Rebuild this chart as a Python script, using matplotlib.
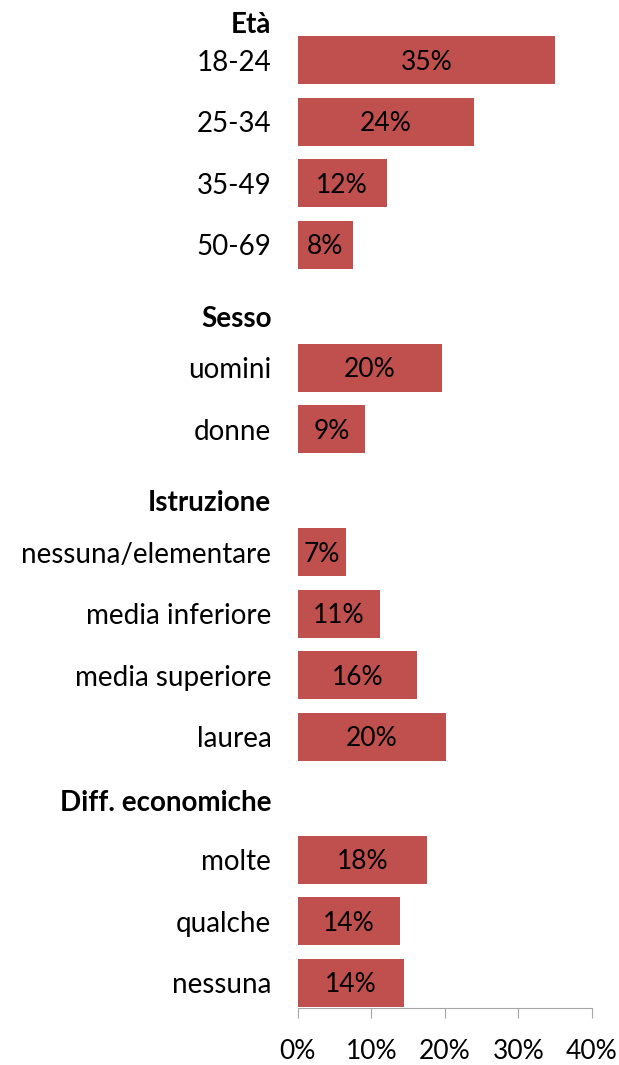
import matplotlib
matplotlib.use('Agg')
import matplotlib.pyplot as plt
from matplotlib.ticker import FuncFormatter

plt.rcParams['font.family'] = ['Lato', 'DejaVu Sans']

# data
categories = ['18-24', '25-34', '35-49', '50-69',
              'uomini', 'donne',
              'nessuna/elementare', 'media inferiore', 'media superiore', 'laurea',
              'molte', 'qualche', 'nessuna']
values = [35.0, 24.0, 12.1, 7.5,
          19.6, 9.2,
          6.6, 11.2, 16.2, 20.2,
          17.6, 13.9, 14.5]
value_labels = ['35%', '24%', '12%', '8%',
                '20%', '9%',
                '7%', '11%', '16%', '20%',
                '18%', '14%', '14%']
groups = ['Età', 'Sesso', 'Istruzione', 'Diff. economiche']
x_ticks = [0, 10, 20, 30, 40]

# layout: rows in slot units, headers sit in empty slots
row_pos = [1, 2, 3, 4, 6, 7, 9, 10, 11, 12, 14, 15, 16]
group_pos = [0.38, 5.16, 8.15, 13.03]

fig = plt.figure(figsize=(6.19, 10.65), dpi=100)
ax = fig.add_axes([0.481, 0.0535, 0.475, 0.9465])

ax.barh(row_pos, values, height=0.78, color='#C0504D')
for y, v, lab in zip(row_pos, values, value_labels):
    ax.text(v / 2, y + 0.03, lab, ha='center', va='center', fontsize=19, color='black')

ax.set_yticks(row_pos + group_pos)
ax.set_yticklabels(categories + groups)
for t in ax.get_yticklabels():
    t.set_fontsize(20)
    if t.get_text() in groups:
        t.set_fontweight('bold')

ax.set_ylim(16.41, 0.02)
ax.set_xlim(0, 40)
ax.set_xticks(x_ticks)
ax.xaxis.set_major_formatter(FuncFormatter(lambda v, p: f'{v:.0f}%'))
ax.tick_params(axis='x', direction='out', length=7, color='#A6A6A6', labelsize=19, pad=15)
ax.tick_params(axis='y', length=0, pad=19)

for side in ['top', 'right', 'left']:
    ax.spines[side].set_visible(False)
ax.spines['bottom'].set_color('#A6A6A6')

fig.savefig('out.png', dpi=100)
